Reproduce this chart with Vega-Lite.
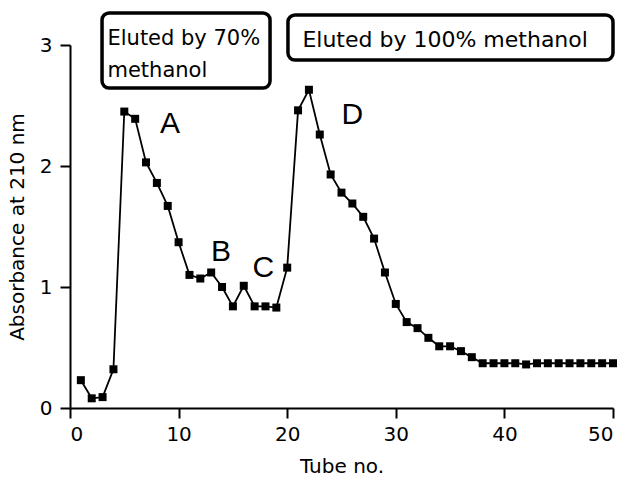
{
  "$schema": "https://vega.github.io/schema/vega-lite/v6.json",
  "autosize": {"type": "none"},
  "padding": {"left": 70, "top": 45, "right": 17, "bottom": 74},
  "width": 543,
  "height": 363,
  "background": "white",
  "config": {
    "view": {"stroke": null},
    "font": "DejaVu Sans",
    "axis": {"grid": false, "domainColor": "black", "tickColor": "black", "domainWidth": 2, "tickWidth": 2, "tickSize": 10, "labelColor": "black", "titleColor": "black", "labelFont": "DejaVu Sans", "titleFont": "DejaVu Sans", "titleFontWeight": "normal", "labelFontSize": 20, "titleFontSize": 20, "format": "d"}
  },
  "datasets": {
    "abs": [
      {"tube": 1, "abs": 0.23}, {"tube": 2, "abs": 0.08}, {"tube": 3, "abs": 0.09}, {"tube": 4, "abs": 0.32},
      {"tube": 5, "abs": 2.45}, {"tube": 6, "abs": 2.39}, {"tube": 7, "abs": 2.03}, {"tube": 8, "abs": 1.86},
      {"tube": 9, "abs": 1.67}, {"tube": 10, "abs": 1.37}, {"tube": 11, "abs": 1.10}, {"tube": 12, "abs": 1.07},
      {"tube": 13, "abs": 1.12}, {"tube": 14, "abs": 1.00}, {"tube": 15, "abs": 0.84}, {"tube": 16, "abs": 1.01},
      {"tube": 17, "abs": 0.84}, {"tube": 18, "abs": 0.84}, {"tube": 19, "abs": 0.83}, {"tube": 20, "abs": 1.16},
      {"tube": 21, "abs": 2.46}, {"tube": 22, "abs": 2.63}, {"tube": 23, "abs": 2.26}, {"tube": 24, "abs": 1.93},
      {"tube": 25, "abs": 1.78}, {"tube": 26, "abs": 1.69}, {"tube": 27, "abs": 1.58}, {"tube": 28, "abs": 1.40},
      {"tube": 29, "abs": 1.12}, {"tube": 30, "abs": 0.86}, {"tube": 31, "abs": 0.71}, {"tube": 32, "abs": 0.66},
      {"tube": 33, "abs": 0.58}, {"tube": 34, "abs": 0.51}, {"tube": 35, "abs": 0.51}, {"tube": 36, "abs": 0.47},
      {"tube": 37, "abs": 0.42}, {"tube": 38, "abs": 0.37}, {"tube": 39, "abs": 0.37}, {"tube": 40, "abs": 0.37},
      {"tube": 41, "abs": 0.37}, {"tube": 42, "abs": 0.36}, {"tube": 43, "abs": 0.37}, {"tube": 44, "abs": 0.37},
      {"tube": 45, "abs": 0.37}, {"tube": 46, "abs": 0.37}, {"tube": 47, "abs": 0.37}, {"tube": 48, "abs": 0.37},
      {"tube": 49, "abs": 0.37}, {"tube": 50, "abs": 0.37}
    ],
    "peaks": [
      {"label": "A", "tube": 9.2, "abs": 2.35},
      {"label": "B", "tube": 13.9, "abs": 1.29},
      {"label": "C", "tube": 17.8, "abs": 1.16},
      {"label": "D", "tube": 26.0, "abs": 2.42}
    ],
    "boxes": [
      {"x1": 2.95, "x2": 18.42, "y1": 3.264, "y2": 2.645},
      {"x1": 20.07, "x2": 50.0, "y1": 3.248, "y2": 2.876}
    ],
    "notes70": [
      {"text": "Eluted by 70%", "tube": 3.45, "abs": 3.0},
      {"text": "methanol", "tube": 3.45, "abs": 2.736}
    ],
    "notes100": [
      {"text": "Eluted by 100% methanol", "tube": 21.4, "abs": 2.983}
    ]
  },
  "layer": [
    {
      "data": {"name": "abs"},
      "mark": {"type": "line", "color": "black", "strokeWidth": 1.8},
      "encoding": {
        "x": {"field": "tube", "type": "quantitative", "scale": {"domain": [0, 50], "nice": false},
              "axis": {"title": "Tube no.", "values": [0, 10, 20, 30, 40, 50], "labelPadding": 6, "titlePadding": 12}},
        "y": {"field": "abs", "type": "quantitative", "scale": {"domain": [0, 3], "nice": false},
              "axis": {"title": "Absorbance at 210 nm", "values": [0, 1, 2, 3], "labelPadding": 8, "titlePadding": 12}}
      }
    },
    {
      "data": {"name": "abs"},
      "mark": {"type": "point", "shape": "square", "filled": true, "color": "black", "size": 64, "opacity": 1},
      "encoding": {
        "x": {"field": "tube", "type": "quantitative"},
        "y": {"field": "abs", "type": "quantitative"}
      }
    },
    {
      "data": {"name": "peaks"},
      "mark": {"type": "text", "font": "Liberation Sans", "fontSize": 30, "color": "black", "align": "center", "baseline": "middle"},
      "encoding": {
        "x": {"field": "tube", "type": "quantitative"},
        "y": {"field": "abs", "type": "quantitative"},
        "text": {"field": "label"}
      }
    },
    {
      "data": {"name": "boxes"},
      "mark": {"type": "rect", "fill": "white", "stroke": "black", "strokeWidth": 3.5, "cornerRadius": 7},
      "encoding": {
        "x": {"field": "x1", "type": "quantitative"},
        "x2": {"field": "x2"},
        "y": {"field": "y1", "type": "quantitative"},
        "y2": {"field": "y2"}
      }
    },
    {
      "data": {"name": "notes70"},
      "mark": {"type": "text", "color": "black", "align": "left", "baseline": "alphabetic", "font": "DejaVu Sans", "fontSize": 21},
      "encoding": {
        "x": {"field": "tube", "type": "quantitative"},
        "y": {"field": "abs", "type": "quantitative"},
        "text": {"field": "text"}
      }
    },
    {
      "data": {"name": "notes100"},
      "mark": {"type": "text", "color": "black", "align": "left", "baseline": "alphabetic", "font": "DejaVu Sans", "fontSize": 22},
      "encoding": {
        "x": {"field": "tube", "type": "quantitative"},
        "y": {"field": "abs", "type": "quantitative"},
        "text": {"field": "text"}
      }
    }
  ]
}
